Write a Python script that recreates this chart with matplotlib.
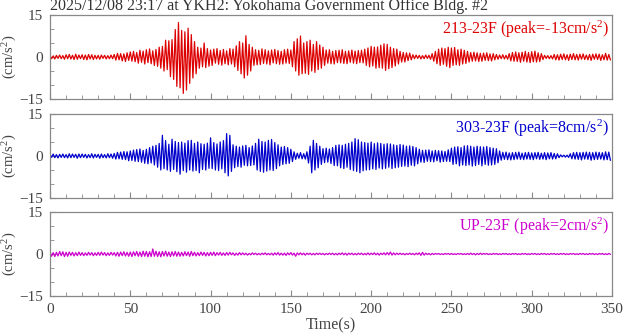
import numpy as np
import matplotlib
matplotlib.use("Agg")
from matplotlib import pyplot as plt
from matplotlib.ticker import MultipleLocator

plt.rcParams['font.family'] = ['Liberation Serif', 'DejaVu Serif']
plt.rcParams['mathtext.default'] = 'regular'

#WAVEFORM DATA (turning points every dt seconds, cm/s^2)
dt = 1.0

ns_213 = [
    0.5,-0.6,0.4,-0.7,0.6,-0.5,0.7,-0.6,0.5,-0.8,
    0.8,-0.6,0.9,-0.7,0.6,-0.9,1.0,-0.8,0.7,-0.6,
    0.8,-0.9,0.7,-1.0,0.9,-0.7,0.8,-0.9,0.6,-0.7,
    0.6,-0.8,0.7,-0.5,0.6,-0.7,0.5,-0.6,0.7,-0.6,
    0.9,-1.1,1.3,-1.0,1.2,-1.4,1.1,-1.6,1.5,-1.2,
    1.8,-1.5,2.0,-1.7,1.6,-2.2,2.4,-1.9,2.1,-2.5,
    2.6,-2.0,2.9,-2.4,2.2,-3.0,2.7,-3.3,3.5,-4.0,
    3.8,-5.0,6.0,-4.5,5.8,-7.0,6.2,-8.0,9.8,-10.5,
    12.3,-11.0,9.5,-13.0,9.0,-11.8,10.3,-9.4,8.0,-7.5,
    5.5,-6.0,3.5,-4.0,3.2,-3.5,5.0,-3.8,3.0,-3.3,
    2.5,-3.0,2.8,-2.2,3.0,-2.6,2.3,-2.9,2.7,-2.4,
    2.2,-2.8,3.0,-2.5,2.8,-3.5,4.0,-4.8,5.5,-6.0,
    5.0,-7.5,7.6,-6.5,4.5,-5.0,3.5,-3.0,2.6,-2.8,
    2.4,-2.7,2.9,-2.3,2.6,-2.5,2.2,-2.8,2.5,-2.1,
    2.7,-2.4,2.3,-2.6,2.0,-2.5,2.6,-2.2,2.8,-2.3,
    2.5,-3.5,5.5,-5.0,6.5,-6.5,7.5,-6.0,5.0,-5.8,
    5.5,-6.2,6.0,-5.0,4.5,-5.5,5.5,-4.5,4.3,-4.0,
    3.5,-3.0,2.5,-2.2,2.6,-2.4,2.0,-2.5,2.3,-2.0,
    2.4,-2.1,2.6,-2.3,2.0,-2.4,2.2,-1.9,2.5,-2.2,
    2.1,-2.4,2.3,-2.0,2.4,-2.1,2.8,-3.0,3.2,-3.5,
    3.8,-3.2,3.5,-4.0,3.6,-3.8,4.2,-4.0,4.7,-4.8,
    4.5,-4.2,3.5,-3.8,3.0,-3.2,2.8,-2.5,2.0,-1.8,
    1.6,-1.8,1.5,-1.3,1.4,-1.0,0.8,-0.6,0.7,-0.5,
    0.6,-0.7,0.5,-0.6,0.7,-0.5,0.6,-0.8,1.2,-1.5,
    2.0,-2.4,2.8,-3.0,3.2,-2.6,3.0,-3.3,3.5,-3.8,
    3.2,-3.0,3.4,-2.8,2.6,-3.0,2.8,-2.5,2.4,-2.3,
    2.0,-1.8,1.6,-1.5,1.7,-1.4,1.5,-1.6,1.3,-1.5,
    1.4,-1.2,1.5,-1.3,1.1,-1.4,1.2,-1.0,0.9,-0.8,
    0.7,-0.6,0.8,-0.7,0.6,-0.8,1.2,-1.4,1.6,-1.5,
    1.8,-1.6,1.5,-1.9,1.7,-1.5,2.0,-1.8,1.6,-2.0,
    1.9,-1.7,2.1,-1.8,1.5,-1.6,1.2,-0.9,0.6,-0.5,
    0.5,-0.6,0.5,-0.7,0.9,-1.0,0.8,-1.1,1.0,-0.9,
    1.1,-1.0,0.8,-1.2,1.0,-0.9,1.2,-1.0,0.9,-1.1,
    1.0,-0.8,1.1,-0.9,0.7,-1.0,0.9,-1.2,1.0,-0.8,
    1.1,-0.9,1.0,-1.2,0.8,-1.0,1.3,-1.1,0.9,-1.0,
]

ew_303 = [
    0.6,-0.5,0.7,-0.6,0.5,-0.7,0.6,-0.5,0.7,-0.6,
    0.5,-0.7,0.8,-0.6,0.7,-0.5,0.6,-0.8,0.7,-0.6,
    0.7,-0.5,0.6,-0.7,0.5,-0.6,0.8,-0.7,0.6,-0.5,
    0.6,-0.8,0.7,-0.6,0.5,-0.7,0.8,-0.6,0.7,-0.8,
    0.9,-1.1,1.3,-1.0,1.4,-1.2,1.6,-1.3,1.5,-1.7,
    1.8,-1.6,2.1,-1.9,2.3,-2.0,2.5,-2.2,2.0,-2.6,
    2.4,-2.8,3.0,-2.5,3.5,-3.2,3.8,-4.0,4.5,-5.0,
    7.4,-4.5,5.5,-5.0,4.2,-5.5,6.0,-4.8,5.2,-5.6,
    4.8,-6.5,5.0,-5.2,4.6,-5.8,5.5,-5.0,5.6,-5.4,
    4.5,-5.2,5.0,-6.0,4.4,-4.8,4.2,-5.0,4.6,-4.4,
    6.5,-4.5,4.8,-5.0,4.3,-5.2,5.0,-4.6,5.5,-6.0,
    8.0,-7.1,7.4,-5.5,4.0,-4.2,3.5,-3.8,3.2,-4.0,
    3.6,-3.3,3.8,-3.5,3.0,-3.4,3.6,-3.2,4.5,-5.0,
    6.0,-5.5,5.2,-5.8,5.0,-5.4,5.6,-5.0,5.9,-5.2,
    4.8,-4.5,4.0,-3.5,3.2,-3.0,3.4,-2.8,3.0,-2.6,
    2.4,-2.0,1.5,-1.2,1.0,-0.8,1.2,-1.0,0.8,-1.1,
    1.5,-2.5,3.5,-6.0,5.6,-5.0,4.5,-4.2,3.5,-3.0,
    2.6,-2.4,2.8,-2.2,2.5,-2.7,3.0,-3.4,3.8,-3.5,
    4.0,-4.2,3.8,-4.5,4.2,-4.0,4.5,-4.8,5.0,-5.2,
    6.2,-5.5,5.8,-6.0,5.0,-5.3,4.8,-5.0,4.6,-4.9,
    5.0,-4.6,4.4,-4.8,4.7,-4.3,4.5,-4.6,4.2,-4.4,
    4.4,-4.0,4.3,-4.5,4.0,-4.2,3.8,-4.0,4.1,-3.7,
    3.9,-3.6,3.5,-3.8,3.6,-3.3,3.4,-3.5,3.0,-2.8,
    2.4,-2.2,2.0,-2.3,2.1,-1.9,2.2,-2.0,1.8,-2.1,
    2.0,-1.7,1.9,-2.2,1.8,-2.0,1.6,-1.9,2.2,-2.0,
    2.8,-3.0,3.2,-2.8,3.3,-3.5,3.0,-3.2,3.6,-3.4,
    3.7,-3.2,3.5,-3.6,3.2,-3.4,3.5,-3.0,3.3,-3.5,
    3.2,-3.0,3.4,-3.3,3.0,-3.2,2.8,-3.0,2.6,-2.4,
    1.8,-1.5,1.3,-1.2,1.4,-1.3,1.1,-1.4,1.2,-1.3,
    1.3,-1.1,1.4,-1.2,1.0,-1.3,1.2,-1.1,1.3,-1.2,
    1.1,-1.3,1.2,-1.0,1.3,-1.2,1.0,-1.1,1.2,-1.3,
    1.1,-1.0,1.2,-1.1,0.9,-1.0,0.8,-0.6,0.4,-0.3,
    0.3,-0.4,0.3,-0.5,0.8,-1.0,1.2,-1.1,1.3,-1.2,
    1.2,-1.4,1.3,-1.1,1.4,-1.2,1.3,-1.5,1.2,-1.3,
    1.4,-1.2,1.3,-1.1,1.2,-1.4,1.5,-1.3,1.4,-1.5,
]

ud_up = [
    0.7,-0.8,0.5,-0.9,0.6,-0.7,0.9,-0.6,0.8,-0.9,
    0.6,-0.8,0.7,-0.5,0.6,-0.7,0.5,-0.6,0.7,-0.5,
    0.5,-0.6,0.4,-0.5,0.6,-0.4,0.5,-0.6,0.4,-0.5,
    0.6,-0.5,0.7,-0.4,0.5,-0.6,0.4,-0.5,0.6,-0.4,
    0.5,-0.7,0.6,-0.8,0.7,-0.6,0.8,-0.7,0.6,-0.8,
    0.7,-0.9,0.8,-0.6,0.9,-0.8,0.7,-0.9,1.0,-0.8,
    0.9,-1.0,0.8,-0.9,1.8,-0.8,1.0,-0.9,0.8,-1.0,
    0.9,-0.7,1.0,-0.8,0.7,-0.9,0.8,-0.7,0.9,-0.8,
    0.7,-0.8,0.6,-0.7,0.8,-0.6,0.7,-0.8,0.9,-0.6,
    0.6,-0.7,0.5,-0.6,0.7,-0.5,0.6,-0.7,0.5,-0.6,
    0.6,-0.5,0.7,-0.6,0.5,-0.4,0.6,-0.5,0.4,-0.5,
    0.5,-0.4,0.6,-0.3,0.4,-0.5,0.3,-0.4,0.5,-0.3,
    0.4,-0.3,0.3,-0.4,0.2,-0.3,0.4,-0.2,0.3,-0.3,
    0.2,-0.3,0.3,-0.2,0.4,-0.3,0.2,-0.3,0.3,-0.4,
    0.4,-0.3,0.5,-0.4,0.3,-0.4,0.3,-0.5,0.4,-0.3,
    0.5,-0.4,0.3,-0.8,0.4,-0.3,0.4,-0.3,0.3,-0.4,
    0.3,-0.2,0.3,-0.3,0.2,-0.3,0.3,-0.2,0.3,-0.2,
    0.2,-0.3,0.2,-0.2,0.3,-0.2,0.3,-0.3,0.2,-0.3,
    0.3,-0.2,0.4,-0.3,0.3,-0.4,0.3,-0.2,0.3,-0.3,
    0.2,-0.3,0.3,-0.2,0.3,-0.3,0.2,-0.3,0.4,-0.3,
    0.3,-0.2,0.4,-0.3,0.3,-0.4,0.3,-0.2,0.4,-0.3,
    0.5,-0.3,0.7,-0.4,0.4,-0.3,0.3,-0.2,0.3,-0.2,
    0.2,-0.3,0.2,-0.2,0.3,-0.2,0.2,-0.3,0.3,-0.2,
    0.4,-0.5,0.6,-0.4,0.3,-0.2,0.2,-0.3,0.2,-0.2,
    0.2,-0.1,0.2,-0.2,0.1,-0.2,0.2,-0.1,0.2,-0.2,
    0.2,-0.2,0.1,-0.2,0.2,-0.1,0.2,-0.2,0.1,-0.2,
    0.2,-0.2,0.3,-0.2,0.2,-0.3,0.2,-0.2,0.3,-0.2,
    0.2,-0.1,0.2,-0.2,0.1,-0.2,0.2,-0.1,0.2,-0.2,
    0.1,-0.2,0.2,-0.1,0.2,-0.2,0.1,-0.2,0.2,-0.1,
    0.2,-0.2,0.1,-0.2,0.2,-0.1,0.2,-0.2,0.1,-0.2,
    0.2,-0.1,0.2,-0.2,0.1,-0.2,0.2,-0.1,0.2,-0.2,
    0.1,-0.2,0.2,-0.1,0.2,-0.2,0.1,-0.2,0.2,-0.1,
    0.2,-0.2,0.1,-0.2,0.2,-0.1,0.2,-0.2,0.1,-0.2,
    0.2,-0.1,0.2,-0.2,0.1,-0.2,0.2,-0.1,0.2,-0.2,
    0.1,-0.2,0.2,-0.1,0.2,-0.2,0.1,-0.2,0.2,-0.1,
]

names = ["213-23F", "303-23F", "UP-23F"]
peaks = [-13, 8, 2]
colors = ["#dd0000", "#0000cc", "#cc00cc"]
traces = [ns_213, ew_303, ud_up]

title = "2025/12/08 23:17 at YKH2: Yokohama Government Office Bldg. #2"

#PLOTTING
fig = plt.figure(figsize=(6.24, 3.34), dpi=100)
left, width = 50/624, 562/624
tops = [15, 114, 212]
h = 84/334
grey = "#888888"
txt = "#444444"
fs = 11

for k in range(3):
    bottom = 1 - tops[k]/334 - h
    ax = fig.add_axes([left, bottom, width, h])
    y = np.array(traces[k])
    t = np.arange(len(y)) * dt
    ax.plot(t, y, color=colors[k], linewidth=0.9)
    ax.set_xlim(0, 350)
    ax.set_ylim(-15, 15)
    ax.set_yticks([-15, 0, 15])
    ax.yaxis.set_minor_locator(MultipleLocator(5))
    ax.xaxis.set_major_locator(MultipleLocator(50))
    ax.xaxis.set_minor_locator(MultipleLocator(10))
    ax.tick_params(which='both', direction='in', color=grey, labelcolor=txt,
                   labelsize=fs, top=False, right=False)
    ax.tick_params(which='major', length=4, pad=5)
    ax.tick_params(which='minor', length=3)
    for s in ax.spines.values():
        s.set_color(grey)
        s.set_linewidth(0.9)
    ax.set_ylabel("(cm/s$^2$)", color=txt, fontsize=10.5)
    ax.yaxis.set_label_coords(-31/562, 0.5)
    ax.text(0.995, 0.96, "%s (peak=%dcm/s$^2$)" % (names[k], peaks[k]),
            transform=ax.transAxes, ha='right', va='top',
            color=colors[k], fontsize=11.5)
    if k < 2:
        ax.tick_params(labelbottom=False)
    else:
        ax.set_xlabel("Time(s)", color=txt, fontsize=11.5, labelpad=1)

fig.text(left, 1 - 10.5/334, title, ha='left', va='baseline',
         color="#333333", fontsize=11.5)

plt.savefig("out.png", dpi=100)
